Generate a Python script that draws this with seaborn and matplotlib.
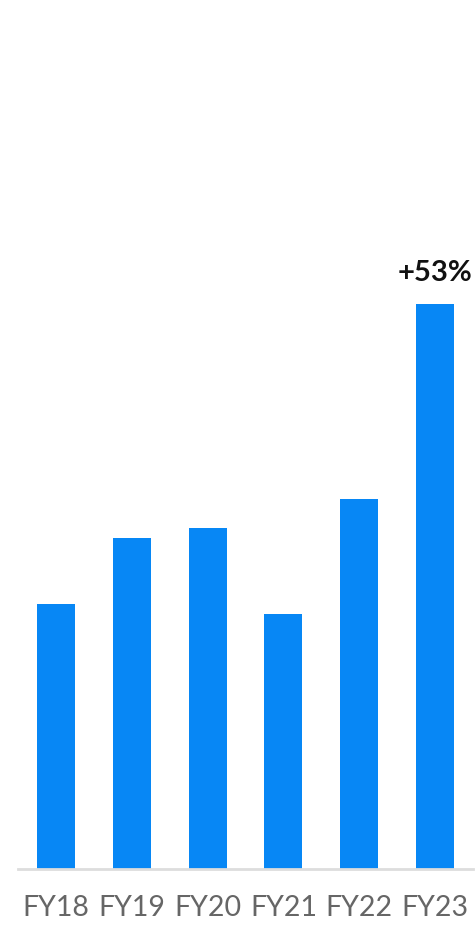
import matplotlib
matplotlib.use("Agg")
import matplotlib.pyplot as plt
import seaborn as sns
import pandas as pd

years = ["FY18", "FY19", "FY20", "FY21", "FY22", "FY23"]
values = [265, 331, 341, 255, 370, 565]
growth_label = "+53%"

sns.set_theme(style="white")
plt.rcParams["font.family"] = ["Lato", "DejaVu Sans"]

df = pd.DataFrame({"year": years, "value": values})

fig = plt.figure(figsize=(4.75, 9.29), dpi=100)
ax = fig.add_axes([18 / 475, 59 / 929, 455 / 475, 870 / 929])

sns.barplot(data=df, x="year", y="value", color="#0787F5", saturation=1,
            width=0.5, ax=ax)
for p in ax.patches:
    p.set_edgecolor("none")

ax.set_xlim(-0.5, len(years) - 0.5)
ax.set_ylim(0, 870)
ax.set_xlabel("")
ax.set_ylabel("")
ax.set_yticks([])
for side in ["top", "left", "right"]:
    ax.spines[side].set_visible(False)
ax.spines["bottom"].set_color("#DDDDDD")
ax.spines["bottom"].set_linewidth(2)
ax.tick_params(axis="x", length=0, pad=18, labelsize=20.5, labelcolor="#666666")

ax.text(len(years) - 1, values[-1] + 19, growth_label, ha="center", va="bottom",
        fontsize=21, fontweight="bold", color="#111111")

fig.savefig("out.png", dpi=100)
